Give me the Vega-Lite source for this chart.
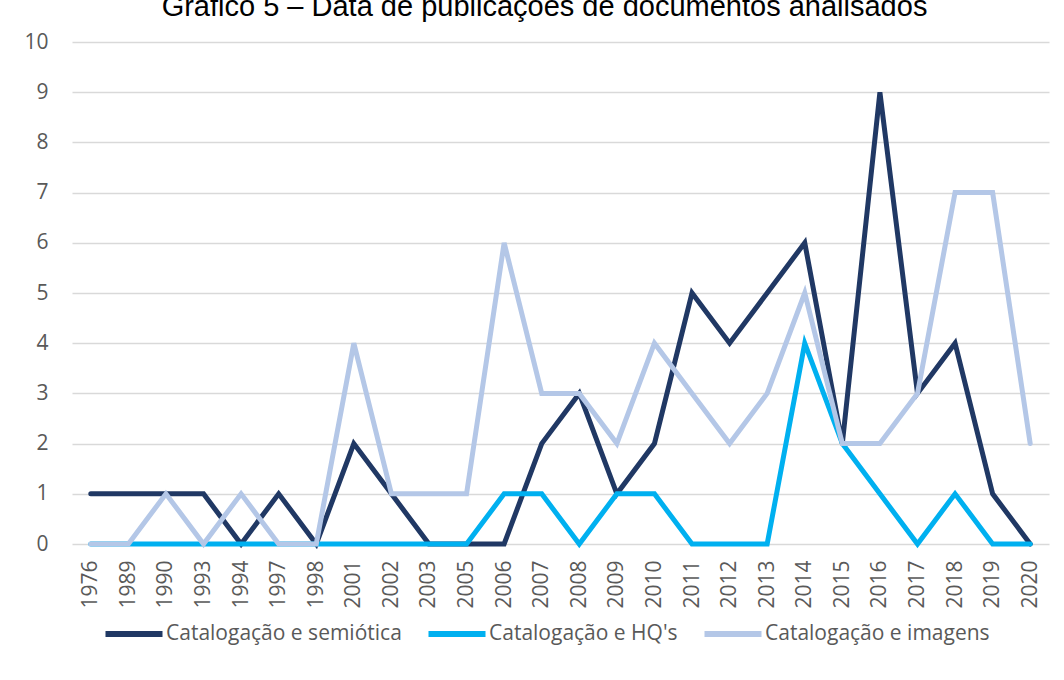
{
  "$schema": "https://vega.github.io/schema/vega-lite/v6.json",
  "width": 977,
  "height": 502,
  "autosize": {"type": "none"},
  "padding": {"left": 72, "top": 42, "right": 15, "bottom": 134},
  "background": "white",
  "title": {
    "text": "Gráfico 5 – Data de publicações de documentos analisados",
    "font": "Liberation Sans",
    "fontSize": 29,
    "fontWeight": "normal",
    "color": "#000000",
    "anchor": "middle",
    "dx": -16,
    "dy": -5
  },
  "config": {
    "view": {"stroke": null},
    "font": "Open Sans"
  },
  "data": {
    "values": [
      {"ano": "1976", "serie": "Catalogação e semiótica", "valor": 1},
      {"ano": "1989", "serie": "Catalogação e semiótica", "valor": 1},
      {"ano": "1990", "serie": "Catalogação e semiótica", "valor": 1},
      {"ano": "1993", "serie": "Catalogação e semiótica", "valor": 1},
      {"ano": "1994", "serie": "Catalogação e semiótica", "valor": 0},
      {"ano": "1997", "serie": "Catalogação e semiótica", "valor": 1},
      {"ano": "1998", "serie": "Catalogação e semiótica", "valor": 0},
      {"ano": "2001", "serie": "Catalogação e semiótica", "valor": 2},
      {"ano": "2002", "serie": "Catalogação e semiótica", "valor": 1},
      {"ano": "2003", "serie": "Catalogação e semiótica", "valor": 0},
      {"ano": "2005", "serie": "Catalogação e semiótica", "valor": 0},
      {"ano": "2006", "serie": "Catalogação e semiótica", "valor": 0},
      {"ano": "2007", "serie": "Catalogação e semiótica", "valor": 2},
      {"ano": "2008", "serie": "Catalogação e semiótica", "valor": 3},
      {"ano": "2009", "serie": "Catalogação e semiótica", "valor": 1},
      {"ano": "2010", "serie": "Catalogação e semiótica", "valor": 2},
      {"ano": "2011", "serie": "Catalogação e semiótica", "valor": 5},
      {"ano": "2012", "serie": "Catalogação e semiótica", "valor": 4},
      {"ano": "2013", "serie": "Catalogação e semiótica", "valor": 5},
      {"ano": "2014", "serie": "Catalogação e semiótica", "valor": 6},
      {"ano": "2015", "serie": "Catalogação e semiótica", "valor": 2},
      {"ano": "2016", "serie": "Catalogação e semiótica", "valor": 9},
      {"ano": "2017", "serie": "Catalogação e semiótica", "valor": 3},
      {"ano": "2018", "serie": "Catalogação e semiótica", "valor": 4},
      {"ano": "2019", "serie": "Catalogação e semiótica", "valor": 1},
      {"ano": "2020", "serie": "Catalogação e semiótica", "valor": 0},
      {"ano": "1976", "serie": "Catalogação e HQ's", "valor": 0},
      {"ano": "1989", "serie": "Catalogação e HQ's", "valor": 0},
      {"ano": "1990", "serie": "Catalogação e HQ's", "valor": 0},
      {"ano": "1993", "serie": "Catalogação e HQ's", "valor": 0},
      {"ano": "1994", "serie": "Catalogação e HQ's", "valor": 0},
      {"ano": "1997", "serie": "Catalogação e HQ's", "valor": 0},
      {"ano": "1998", "serie": "Catalogação e HQ's", "valor": 0},
      {"ano": "2001", "serie": "Catalogação e HQ's", "valor": 0},
      {"ano": "2002", "serie": "Catalogação e HQ's", "valor": 0},
      {"ano": "2003", "serie": "Catalogação e HQ's", "valor": 0},
      {"ano": "2005", "serie": "Catalogação e HQ's", "valor": 0},
      {"ano": "2006", "serie": "Catalogação e HQ's", "valor": 1},
      {"ano": "2007", "serie": "Catalogação e HQ's", "valor": 1},
      {"ano": "2008", "serie": "Catalogação e HQ's", "valor": 0},
      {"ano": "2009", "serie": "Catalogação e HQ's", "valor": 1},
      {"ano": "2010", "serie": "Catalogação e HQ's", "valor": 1},
      {"ano": "2011", "serie": "Catalogação e HQ's", "valor": 0},
      {"ano": "2012", "serie": "Catalogação e HQ's", "valor": 0},
      {"ano": "2013", "serie": "Catalogação e HQ's", "valor": 0},
      {"ano": "2014", "serie": "Catalogação e HQ's", "valor": 4},
      {"ano": "2015", "serie": "Catalogação e HQ's", "valor": 2},
      {"ano": "2016", "serie": "Catalogação e HQ's", "valor": 1},
      {"ano": "2017", "serie": "Catalogação e HQ's", "valor": 0},
      {"ano": "2018", "serie": "Catalogação e HQ's", "valor": 1},
      {"ano": "2019", "serie": "Catalogação e HQ's", "valor": 0},
      {"ano": "2020", "serie": "Catalogação e HQ's", "valor": 0},
      {"ano": "1976", "serie": "Catalogação e imagens", "valor": 0},
      {"ano": "1989", "serie": "Catalogação e imagens", "valor": 0},
      {"ano": "1990", "serie": "Catalogação e imagens", "valor": 1},
      {"ano": "1993", "serie": "Catalogação e imagens", "valor": 0},
      {"ano": "1994", "serie": "Catalogação e imagens", "valor": 1},
      {"ano": "1997", "serie": "Catalogação e imagens", "valor": 0},
      {"ano": "1998", "serie": "Catalogação e imagens", "valor": 0},
      {"ano": "2001", "serie": "Catalogação e imagens", "valor": 4},
      {"ano": "2002", "serie": "Catalogação e imagens", "valor": 1},
      {"ano": "2003", "serie": "Catalogação e imagens", "valor": 1},
      {"ano": "2005", "serie": "Catalogação e imagens", "valor": 1},
      {"ano": "2006", "serie": "Catalogação e imagens", "valor": 6},
      {"ano": "2007", "serie": "Catalogação e imagens", "valor": 3},
      {"ano": "2008", "serie": "Catalogação e imagens", "valor": 3},
      {"ano": "2009", "serie": "Catalogação e imagens", "valor": 2},
      {"ano": "2010", "serie": "Catalogação e imagens", "valor": 4},
      {"ano": "2011", "serie": "Catalogação e imagens", "valor": 3},
      {"ano": "2012", "serie": "Catalogação e imagens", "valor": 2},
      {"ano": "2013", "serie": "Catalogação e imagens", "valor": 3},
      {"ano": "2014", "serie": "Catalogação e imagens", "valor": 5},
      {"ano": "2015", "serie": "Catalogação e imagens", "valor": 2},
      {"ano": "2016", "serie": "Catalogação e imagens", "valor": 2},
      {"ano": "2017", "serie": "Catalogação e imagens", "valor": 3},
      {"ano": "2018", "serie": "Catalogação e imagens", "valor": 7},
      {"ano": "2019", "serie": "Catalogação e imagens", "valor": 7},
      {"ano": "2020", "serie": "Catalogação e imagens", "valor": 2}
    ]
  },
  "mark": {"type": "line", "strokeWidth": 5, "strokeJoin": "miter", "strokeCap": "round"},
  "encoding": {
    "x": {
      "field": "ano",
      "type": "nominal",
      "sort": null,
      "scale": {"type": "point", "padding": 0.5},
      "axis": {
        "title": null,
        "labelAngle": -90,
        "labelFontSize": 21,
        "labelColor": "#595959",
        "labelPadding": 16,
        "ticks": false,
        "domain": false,
        "grid": false
      }
    },
    "y": {
      "field": "valor",
      "type": "quantitative",
      "scale": {"domain": [0, 10], "nice": false},
      "axis": {
        "title": null,
        "values": [0, 1, 2, 3, 4, 5, 6, 7, 8, 9, 10],
        "labelFontSize": 21,
        "labelColor": "#595959",
        "labelPadding": 24,
        "ticks": false,
        "domain": false,
        "grid": true,
        "gridColor": "#D9D9D9",
        "gridWidth": 1.5
      }
    },
    "color": {
      "field": "serie",
      "type": "nominal",
      "sort": ["Catalogação e semiótica", "Catalogação e HQ's", "Catalogação e imagens"],
      "scale": {
        "domain": ["Catalogação e semiótica", "Catalogação e HQ's", "Catalogação e imagens"],
        "range": ["#203864", "#00B0F0", "#B4C7E7"]
      },
      "legend": {
        "title": null,
        "orient": "none",
        "legendX": 30,
        "legendY": 560,
        "direction": "horizontal",
        "symbolType": "stroke",
        "symbolSize": 3250,
        "symbolStrokeWidth": 6,
        "labelFontSize": 21,
        "labelLimit": 400,
        "labelColor": "#595959",
        "labelOffset": 0,
        "columnPadding": 14
      }
    }
  }
}
